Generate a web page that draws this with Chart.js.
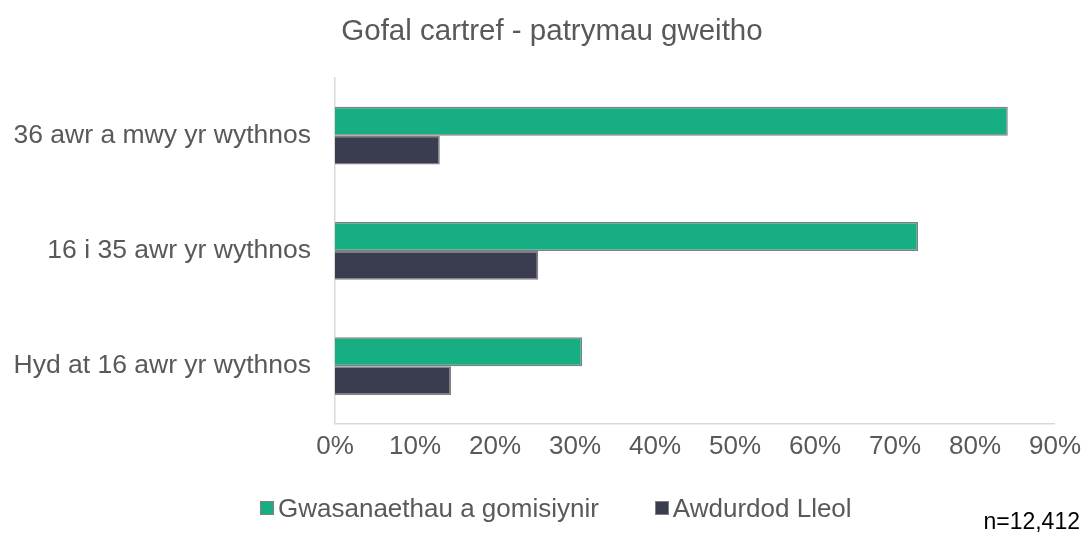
<!DOCTYPE html>
<html>
<head>
<meta charset="utf-8">
<script src="https://cdn.jsdelivr.net/npm/chart.js@4"></script>
<style>
  html,body{margin:0;padding:0;background:#fff;}
  #wrap{width:1088px;height:538px;position:relative;overflow:hidden;font-family:"Liberation Sans",Arial,sans-serif;}
  #title{position:absolute;left:0;width:1104px;top:13px;line-height:34px;text-align:center;font-size:29.5px;color:#595959;white-space:nowrap;}
  #legend{position:absolute;left:260px;top:491px;height:34px;display:flex;align-items:center;font-size:26px;color:#595959;white-space:nowrap;}
  #legend .item{display:flex;align-items:center;margin-right:56px;}
  #legend .sw{width:12px;height:12px;border:1px solid #808080;margin-right:4px;}
  #note{position:absolute;right:8px;top:508px;font-size:23px;color:#000;}
</style>
</head>
<body>
<div id="wrap">
  <canvas id="c" width="1088" height="538"></canvas>
  <div id="title"></div>
  <div id="legend"></div>
  <div id="note"></div>
</div>
<script>
/* --- DATA --- */
const categories = ['36 awr a mwy yr wythnos', '16 i 35 awr yr wythnos', 'Hyd at 16 awr yr wythnos'];
const commissioned = [84.1, 72.9, 30.9];   // Gwasanaethau a gomisiynir
const localAuth    = [13.1, 25.4, 14.5];   // Awdurdod Lleol
const xTicks       = [0, 10, 20, 30, 40, 50, 60, 70, 80, 90];
const seriesNames  = ['Gwasanaethau a gomisiynir', 'Awdurdod Lleol'];
const seriesColors = ['#17ae84', '#3a3c50'];
const titleText    = 'Gofal cartref - patrymau gweitho';
const noteText     = 'n=12,412';

const FONT = 'Liberation Sans, Arial, sans-serif';
const INK = '#595959';

/* --- HTML TITLE, LEGEND + NOTE --- */
document.getElementById('title').textContent = titleText;
document.getElementById('legend').innerHTML = seriesNames.map((n,i)=>
  `<span class="item"><span class="sw" style="background:${seriesColors[i]}"></span>${n}</span>`).join('');
document.getElementById('note').textContent = noteText;

new Chart(document.getElementById('c'), {
  type:'bar',
  data:{
    labels:categories,
    datasets:[
      {label:seriesNames[0], data:commissioned, backgroundColor:seriesColors[0], borderColor:'#808080', borderWidth:1.5},
      {label:seriesNames[1], data:localAuth, backgroundColor:seriesColors[1], borderColor:'#808080', borderWidth:1.5}
    ]
  },
  options:{
    indexAxis:'y',
    responsive:false,
    animation:false,
    categoryPercentage:0.5,
    barPercentage:1.0,
    layout:{padding:{left:0, right:33, top:78, bottom:69}},
    scales:{
      x:{
        min:0, max:90,
        afterBuildTicks:s=>{ s.ticks = xTicks.map(v=>({value:v})); },
        ticks:{font:{size:26, family:FONT}, color:INK, padding:7, callback:v=>v+'%'},
        grid:{display:false, drawTicks:false},
        border:{color:'#d9d9d9', width:1.5}
      },
      y:{
        afterFit:s=>{ s.width = 335; },
        ticks:{font:{size:26.5, family:FONT}, color:INK, padding:24},
        grid:{display:false, drawTicks:false},
        border:{color:'#d9d9d9', width:1.5}
      }
    },
    plugins:{
      title:{display:false},
      legend:{display:false},
      tooltip:{enabled:false}
    }
  }
});
</script>
</body>
</html>
